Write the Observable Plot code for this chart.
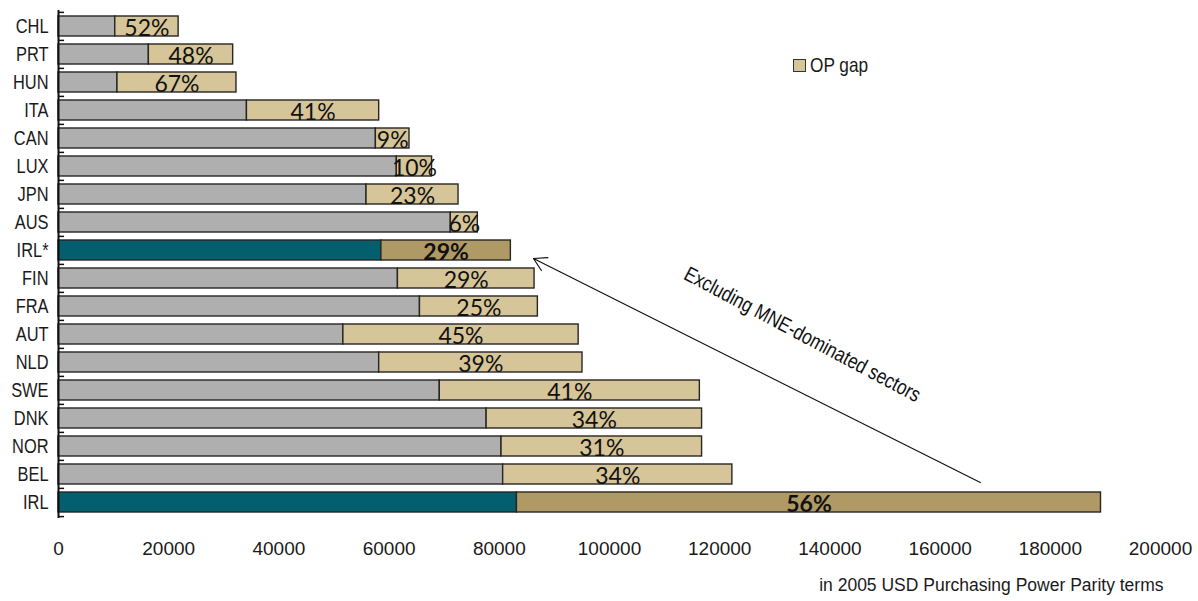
<!DOCTYPE html>
<html>
<head>
<meta charset="utf-8">
<script src="https://cdn.jsdelivr.net/npm/d3@7"></script>
<script src="https://cdn.jsdelivr.net/npm/@observablehq/plot@0.6"></script>
<style>
  html, body { margin: 0; padding: 0; background: #fff; }
  #wrap { position: relative; width: 1198px; height: 601px; }
  #legend { position: absolute; left: 793px; top: 53px; display: flex; align-items: center;
    font-family: 'Liberation Sans', Arial, sans-serif; font-size: 21px; color: #1a1a1a; }
  #legend .sw { width: 11px; height: 11px; background: #D6C598; border: 1px solid #333; margin-right: 4px; }
  #legend .lt { display: inline-block; transform: scaleX(0.82); transform-origin: left center; }
</style>
</head>
<body>
<div id="wrap">
  <div id="legend"><span class="sw"></span><span class="lt">OP gap</span></div>
</div>
<script>
const countries = ["CHL","PRT","HUN","ITA","CAN","LUX","JPN","AUS","IRL*","FIN","FRA","AUT","NLD","SWE","DNK","NOR","BEL","IRL"];
const baseValues = [10300, 16400, 10700, 34200, 57600, 61400, 55900, 71200, 58600, 61600, 65600, 51700, 58200, 69200, 77700, 80400, 80700, 83200];
const totalValues = [21800, 31700, 32300, 58200, 63700, 67800, 72600, 76100, 82100, 86400, 87000, 94400, 95100, 116400, 116800, 116800, 122300, 189200];
const gapLabels = ["52%","48%","67%","41%","9%","10%","23%","6%","29%","29%","25%","45%","39%","41%","34%","31%","34%","56%"];
const highlighted = ["IRL*","IRL"];
const xTicks = [0, 20000, 40000, 60000, 80000, 100000, 120000, 140000, 160000, 180000, 200000];
const xTitle = "in 2005 USD Purchasing Power Parity terms";
const annotationText = "Excluding MNE-dominated sectors";

const COL = {base: "#AEAFAE", gap: "#D6C598", baseHi: "#035E6E", gapHi: "#AF9964"};
const SANS = "'Liberation Sans', Arial, sans-serif";

const rows = [];
countries.forEach((c, i) => {
  const hi = highlighted.includes(c);
  rows.push({country: c, x1: 0, x2: baseValues[i], fill: hi ? COL.baseHi : COL.base});
  rows.push({country: c, x1: baseValues[i], x2: totalValues[i], fill: hi ? COL.gapHi : COL.gap});
});
const labels = countries.map((c, i) => ({
  country: c, x: (baseValues[i] + totalValues[i]) / 2, text: gapLabels[i], bold: highlighted.includes(c)
}));

const H = 601, MT = 10, MB = 83;
const step = (H - MT - MB) / countries.length;

const chart = Plot.plot({
  width: 1198, height: H,
  marginTop: MT, marginBottom: MB, marginLeft: 58, marginRight: 38,
  style: {fontFamily: SANS, fontSize: "20px", color: "#1a1a1a", background: "transparent"},
  x: {domain: [0, 200000]},
  y: {domain: countries, paddingInner: 0.29, paddingOuter: 0.145},
  color: {type: "identity"},
  marks: [
    Plot.axisX({ticks: xTicks, tickSize: 0, tickPadding: 23, tickFormat: d => String(d), label: null, fontSize: 19}),
    Plot.axisY({tickSize: 0, tickPadding: 10, label: null, fontSize: 20}),
    Plot.barX(rows, {x1: "x1", x2: "x2", y: "country", fill: "fill", stroke: "#262626", strokeWidth: 1.4}),
    Plot.ruleX([0], {stroke: "#111", strokeWidth: 2}),
    Plot.ruleY(countries, {y: d => d, x1: 0, x2: 1100, dy: -step / 2, stroke: "#111", strokeWidth: 1.5}),
    Plot.ruleY([countries[countries.length - 1]], {y: d => d, x1: 0, x2: 1100, dy: step / 2, stroke: "#111", strokeWidth: 1.5}),
    Plot.text(labels.filter(d => !d.bold), {x: "x", y: "country", text: "text", fontFamily: "Lato, 'Open Sans', sans-serif", fontSize: 23, fill: "#111", dy: 2}),
    Plot.text(labels.filter(d => d.bold), {x: "x", y: "country", text: "text", fontFamily: "Lato, 'Open Sans', sans-serif", fontSize: 23, fontWeight: "bold", fill: "#111", dy: 2}),
    Plot.arrow([{x1: 167300, y1: "BEL", x2: 86200, y2: "IRL*"}], {x1: "x1", y1: "y1", x2: "x2", y2: "y2", dy: 8, stroke: "#111", strokeWidth: 1.2, headLength: 18}),
    Plot.text([annotationText], {x: () => 135000, y: () => "AUT", text: d => d, rotate: 28, fontSize: 21, fontFamily: SANS, fill: "#111"}),
    Plot.text([xTitle], {frameAnchor: "bottom-right", text: d => d, dy: 72, dx: 3, textAnchor: "end", fontSize: 17.5, fontFamily: SANS, fill: "#1a1a1a"})
  ]
});
document.getElementById("wrap").prepend(chart);

// emulate a narrow (condensed) face by compressing glyphs horizontally
function compress(t, k) {
  const L = t.getComputedTextLength();
  t.setAttribute("textLength", (L * k).toFixed(2));
  t.setAttribute("lengthAdjust", "spacingAndGlyphs");
}
chart.querySelectorAll('g[aria-label="y-axis tick label"] text').forEach(t => compress(t, 0.82));
chart.querySelectorAll("text").forEach(t => {
  if (t.textContent === annotationText) compress(t, 0.82);
});
</script>
</body>
</html>
